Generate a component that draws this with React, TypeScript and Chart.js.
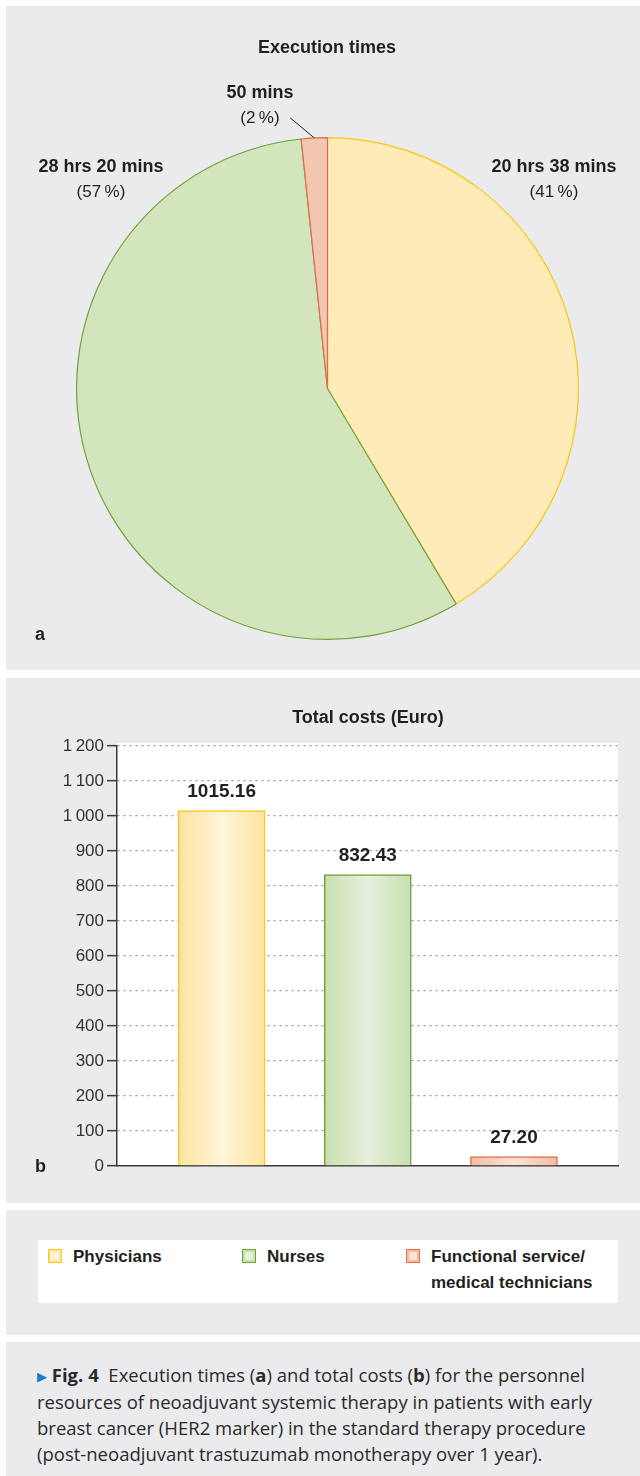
import React, { useEffect, useRef } from "react";
import { Chart, registerables } from "chart.js";

Chart.register(...registerables);

// ---------- data ----------
const groups = ["Physicians", "Nurses", "Functional service/medical technicians"];
const timeMinutes = [1238, 1700, 50]; // 20 h 38 min, 28 h 20 min, 50 min
const costValues = [1015.16, 832.43, 27.2];
const costMin = 0;
const costMax = 1200;
const costStep = 100;
const legendLines = [["Physicians"], ["Nurses"], ["Functional service/", "medical technicians"]];
const pieTitle = "Execution times";
const barTitle = "Total costs (Euro)";

// ---------- styles ----------
const FONT = '"Liberation Sans", Arial, sans-serif';
const CAPTION_FONT = '"Open Sans", "Liberation Sans", sans-serif';
const PANEL = "#ebebed";
const TEXT = "#231f20";
const pieFill = ["#feebb8", "#d3e5bd", "#f3c6b2"];
const pieBorder = ["#f6c80f", "#6ea33a", "#e06a4a"];
const barEdge = ["#fde3a0", "#c8dfae", "#f2bda5"];
const barMid = ["#fff5da", "#e6f0dc", "#fbe3d8"];
const barBorder = ["#f8ca1c", "#6ea33a", "#e27050"];
const BAR_W = 87;

const fmtTime = (m: number) => {
  const h = Math.floor(m / 60);
  const mm = m % 60;
  return h > 0 ? `${h} hrs ${mm} mins` : `${mm} mins`;
};
const totalMin = timeMinutes.reduce((a, b) => a + b, 0);
const pct = (m: number) => `(${Math.round((m / totalMin) * 100)}\u2009%)`;

// label anchor positions (text only)
const pieLabelPos = [
  { x: 554, y: 166 },
  { x: 101, y: 166 },
  { x: 260, y: 92 },
];

function PieChart() {
  const ref = useRef<HTMLCanvasElement>(null);
  useEffect(() => {
    const leader = {
      id: "leader",
      afterDatasetsDraw(chart: any) {
        const meta = chart.getDatasetMeta(0);
        const el = meta.data[2];
        if (!el) return;
        const p = el.getProps(["x", "y", "startAngle", "endAngle", "outerRadius"], true);
        const mid = (p.startAngle + p.endAngle) / 2;
        const sx = p.x + Math.cos(mid) * p.outerRadius;
        const sy = p.y + Math.sin(mid) * p.outerRadius;
        const c = chart.ctx;
        c.save();
        c.strokeStyle = TEXT;
        c.lineWidth = 1;
        c.beginPath();
        c.moveTo(sx, sy);
        c.lineTo(sx - 24, sy - 20);
        c.stroke();
        c.restore();
      },
    };
    const chart = new Chart(ref.current!, {
      type: "pie",
      data: {
        labels: groups,
        datasets: [
          {
            data: timeMinutes,
            backgroundColor: pieFill,
            borderColor: pieBorder,
            borderWidth: 1.2,
          },
        ],
      },
      options: {
        responsive: false,
        animation: false,
        devicePixelRatio: 1,
        layout: { padding: { left: 70, top: 131, right: 61, bottom: 30 } },
        plugins: { legend: { display: false }, tooltip: { enabled: false }, title: { display: false } },
      },
      plugins: [leader],
    });
    return () => chart.destroy();
  }, []);
  return <canvas ref={ref} width={634} height={664} style={{ position: "absolute", left: 0, top: 0 }} />;
}

function BarChart() {
  const ref = useRef<HTMLCanvasElement>(null);
  useEffect(() => {
    const bg = {
      id: "plotBg",
      beforeDraw(chart: any) {
        const a = chart.chartArea;
        const c = chart.ctx;
        c.save();
        c.fillStyle = "#ffffff";
        c.fillRect(a.left, a.top - 3, a.right - a.left, a.bottom - a.top + 3);
        c.restore();
      },
    };
    const values = {
      id: "values",
      afterDatasetsDraw(chart: any) {
        const meta = chart.getDatasetMeta(0);
        const c = chart.ctx;
        c.save();
        c.font = `bold 19px ${FONT}`;
        c.fillStyle = TEXT;
        c.textAlign = "center";
        c.textBaseline = "middle";
        meta.data.forEach((el: any, i: number) => {
          c.fillText(costValues[i].toFixed(2), el.x, el.y - 19);
        });
        c.restore();
      },
    };
    const fillFor = (ctx: any) => {
      const i = ctx.dataIndex ?? 0;
      const xs = ctx.chart && ctx.chart.scales ? ctx.chart.scales.x : null;
      if (!xs || ctx.type !== "data" || !ctx.raw) return barEdge[i];
      const cx = xs.getPixelForValue(ctx.raw.x);
      if (!Number.isFinite(cx)) return barEdge[i];
      const g = ctx.chart.ctx.createLinearGradient(cx - BAR_W / 2, 0, cx + BAR_W / 2, 0);
      g.addColorStop(0, barEdge[i]);
      g.addColorStop(0.5, barMid[i]);
      g.addColorStop(1, barEdge[i]);
      return g;
    };
    const chart = new Chart(ref.current!, {
      type: "bar",
      data: {
        datasets: [
          {
            data: costValues.map((v, i) => ({ x: i, y: v })),
            backgroundColor: fillFor,
            borderColor: barBorder,
            borderWidth: 1.5,
            barThickness: BAR_W,
          } as any,
        ],
      },
      options: {
        responsive: false,
        animation: false,
        devicePixelRatio: 1,
        layout: { padding: { left: 0, top: 68, right: 22, bottom: 0 } },
        plugins: { legend: { display: false }, tooltip: { enabled: false } },
        scales: {
          x: {
            type: "linear",
            offset: false,
            min: -0.716,
            max: 2.712,
            ticks: { display: false },
            grid: { display: false, offset: false },
            border: { display: true, color: "#3a3a3a", width: 1.5 },
            afterFit: (s: any) => {
              s.height = 37;
            },
          },
          y: {
            min: costMin,
            max: costMax,
            ticks: {
              stepSize: costStep,
              color: "#333",
              font: { family: FONT, size: 17 },
              padding: 3,
              callback: (v: any) => {
                const n = Number(v);
                return n >= 1000 ? `${Math.floor(n / 1000)}\u2009${String(n % 1000).padStart(3, "0")}` : String(n);
              },
            },
            grid: {
              color: (ctx: any) => (ctx.tick && ctx.tick.value === 0 ? "rgba(0,0,0,0)" : "#9a9a9a"),
              tickColor: "#3a3a3a",
              tickLength: 10,
              lineWidth: 1.3,
              tickWidth: 1.5,
            },
            border: { display: true, color: "#3a3a3a", width: 1.5, dash: [2, 4] },
            afterFit: (s: any) => {
              s.width = 111;
            },
          },
        },
      },
      plugins: [bg, values],
    });
    return () => chart.destroy();
  }, []);
  return <canvas ref={ref} width={634} height={525} style={{ position: "absolute", left: 0, top: 0 }} />;
}

const abs = (left: number, top: number, extra: any = {}) => ({ position: "absolute" as const, left, top, ...extra });

function CenterText({ x, y, text, bold, size = 18 }: any) {
  return (
    <div
      style={abs(x - 150, y - 12, {
        width: 300,
        textAlign: "center",
        lineHeight: "24px",
        fontSize: size,
        fontWeight: bold ? "bold" : "normal",
        whiteSpace: "nowrap",
        color: TEXT,
      })}
    >
      {text}
    </div>
  );
}

export default function App() {
  return (
    <div style={abs(0, 0, { width: 640, height: 1476, background: "#fff", fontFamily: FONT, color: TEXT, overflow: "hidden" })}>
      {/* panel a */}
      <div style={abs(6, 6, { width: 634, height: 664, background: PANEL })}>
        <PieChart />
      </div>
      <CenterText x={327} y={47} text={pieTitle} bold />
      {timeMinutes.map((m, i) => (
        <React.Fragment key={i}>
          <CenterText x={pieLabelPos[i].x} y={pieLabelPos[i].y} text={fmtTime(m)} bold />
          <CenterText x={pieLabelPos[i].x} y={pieLabelPos[i].y + 26} text={pct(m)} size={17} />
        </React.Fragment>
      ))}
      <div style={abs(35, 622, { fontSize: 18, fontWeight: "bold", lineHeight: "24px" })}>a</div>

      {/* panel b */}
      <div style={abs(6, 678, { width: 634, height: 525, background: PANEL })}>
        <BarChart />
      </div>
      <CenterText x={368} y={717} text={barTitle} bold />
      <div style={abs(35, 1154, { fontSize: 18, fontWeight: "bold", lineHeight: "24px" })}>b</div>

      {/* legend */}
      <div style={abs(6, 1210, { width: 634, height: 125, background: PANEL })}>
        <div style={abs(32, 30, { width: 580, height: 63, background: "#fff" })} />
      </div>
      {legendLines.map((lines, i) => {
        const sx = [48, 242, 406][i];
        return (
          <React.Fragment key={i}>
            <div
              style={abs(sx, 1249, {
                width: 12,
                height: 12,
                background: barMid[i],
                border: `1.5px solid ${barBorder[i]}`,
                boxShadow: `inset 0 0 0 2px ${barEdge[i]}`,
              })}
            />
            <div style={abs(sx + 25, 1244, { fontSize: 17, fontWeight: "bold", lineHeight: "26px", whiteSpace: "nowrap" })}>
              {lines.map((l, k) => (
                <div key={k}>{l}</div>
              ))}
            </div>
          </React.Fragment>
        );
      })}

      {/* caption */}
      <div style={abs(6, 1342, { width: 634, height: 134, background: PANEL })} />
      <div
        style={abs(37, 1362, {
          fontFamily: CAPTION_FONT,
          fontSize: 18.5,
          lineHeight: "26px",
          whiteSpace: "nowrap",
          color: "#2a2a2a",
        })}
      >
        <span style={{ color: "#1a7cc4", fontSize: 13, verticalAlign: "1px" }}>▶</span> <b>Fig. 4</b>&nbsp; Execution times (<b>a</b>) and total
        costs (<b>b</b>) for the personnel
        <br />
        resources of neoadjuvant systemic therapy in patients with early
        <br />
        breast cancer (HER2 marker) in the standard therapy procedure
        <br />
        (post-neoadjuvant trastuzumab monotherapy over 1 year).
      </div>
    </div>
  );
}
